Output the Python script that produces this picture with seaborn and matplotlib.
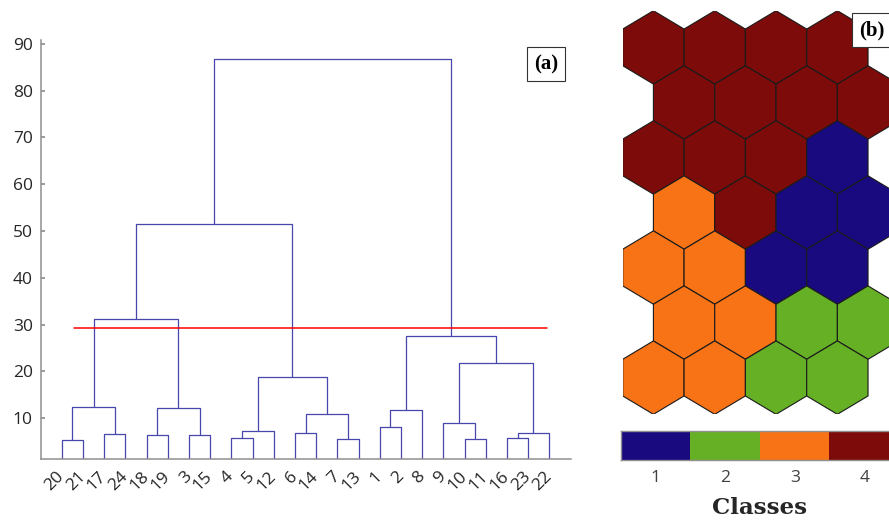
import matplotlib
matplotlib.use("Agg")
import matplotlib.pyplot as plt
import matplotlib.transforms as mtransforms
from matplotlib.colors import ListedColormap
from matplotlib.patches import Polygon
import numpy as np
import pandas as pd
import seaborn as sns

# dendrogram leaves, left to right
leaf_labels = ["20", "21", "17", "24", "18", "19", "3", "15", "4", "5", "12",
               "6", "14", "7", "13", "1", "2", "8", "9", "10", "11", "16", "23", "22"]
# links (left, right, height); "mN" is the N-th link in this list
links = [
    ("20", "21", 5.3), ("17", "24", 6.6), ("m0", "m1", 12.3),
    ("18", "19", 6.3), ("3", "15", 6.4), ("m3", "m4", 12.1),
    ("m2", "m5", 31.2),
    ("4", "5", 5.8), ("m7", "12", 7.3),
    ("6", "14", 6.8), ("7", "13", 5.5), ("m9", "m10", 10.8),
    ("m8", "m11", 18.9),
    ("m6", "m12", 51.5),
    ("1", "2", 8.2), ("m14", "8", 11.8),
    ("10", "11", 5.5), ("9", "m16", 9.0),
    ("16", "23", 5.8), ("m18", "22", 6.9),
    ("m17", "m19", 21.7),
    ("m15", "m20", 27.6),
    ("m13", "m21", 86.7),
]
cut_height = 29.3
cut_from, cut_to = 1.6, 23.9
y_ticks = [10, 20, 30, 40, 50, 60, 70, 80, 90]

class_ids = [1, 2, 3, 4]
class_colors = ["#1a0a80", "#66b026", "#f77316", "#7d0b09"]
# SOM class of each hexagon, top row first (odd rows shifted half a cell)
som_classes = [
    [4, 4, 4, 4],
    [4, 4, 4, 4],
    [4, 4, 4, 1],
    [3, 4, 1, 1],
    [3, 3, 1, 1],
    [3, 3, 2, 2],
    [3, 3, 2, 2],
]

DENDRO = "#4747ad"
TXT = "#262626"
AXC = "#8f8f8f"
BOX = dict(boxstyle="square,pad=0.35", fc="white", ec="#333333", lw=0.8)

sns.set_theme(style="white")
plt.rcParams["font.family"] = ["Open Sans", "DejaVu Sans"]

fig = plt.figure(figsize=(8.89, 5.22), dpi=100)

# (a) dendrogram
ax = fig.add_axes([0.0456, 0.1207, 0.5962, 0.8027])
pos = {lab: (i + 1, 0.0) for i, lab in enumerate(leaf_labels)}
rows = []
for i, (a, b, h) in enumerate(links):
    xa, ya = pos[a]
    xb, yb = pos[b]
    for k, (x, y) in enumerate([(xa, ya), (xa, h), (xb, h), (xb, yb)]):
        rows.append({"link": i, "order": k, "x": x, "y": y})
    pos[f"m{i}"] = ((xa + xb) / 2, h)
seg = pd.DataFrame(rows)
sns.lineplot(data=seg, x="x", y="y", units="link", estimator=None, sort=False,
             color=DENDRO, lw=0.9, ax=ax)
sns.lineplot(x=[cut_from, cut_to], y=[cut_height, cut_height], color="#ff0000",
             lw=1.1, ax=ax)

ax.set_xlim(0, 25)
ax.set_ylim(1.28, 90.8)
ax.set_xlabel("")
ax.set_ylabel("")
ax.set_yticks(y_ticks)
ax.set_xticks(range(1, len(leaf_labels) + 1))
ax.set_xticklabels(leaf_labels, rotation=45, ha="right", va="center",
                   rotation_mode="anchor")
shift = mtransforms.ScaledTranslation(12 / 72, 0, fig.dpi_scale_trans)
for lab in ax.get_xticklabels():
    lab.set_transform(lab.get_transform() + shift)
ax.tick_params(axis="x", length=0, pad=11, labelsize=12.5, labelcolor=TXT)
ax.tick_params(axis="y", direction="in", length=3, color=AXC, pad=5.5,
               labelsize=12.5, labelcolor=TXT, left=True)
for s in ["top", "right"]:
    ax.spines[s].set_visible(False)
for s in ["left", "bottom"]:
    ax.spines[s].set_color(AXC)
    ax.spines[s].set_linewidth(1.1)
ax.text(546 / 889, 1 - 64 / 522, "(a)", transform=fig.transFigure, ha="center",
        va="center", fontsize=15, fontweight="bold", family="Liberation Serif",
        color="black", bbox=BOX)

# (b) SOM hexagon map
hx = fig.add_axes([0.7005, 0.2063, 0.3104, 0.7732])
r = 1 / np.sqrt(3)
ang = np.deg2rad(np.arange(6) * 60 + 30)
for row, classes in enumerate(som_classes):
    for col, c in enumerate(classes):
        cx = col + 0.5 * (row % 2)
        cy = -row * 1.5 * r
        verts = np.column_stack([cx + r * np.cos(ang), cy + r * np.sin(ang)])
        hx.add_patch(Polygon(verts, closed=True, fc=class_colors[c - 1],
                             ec="#1a1a1a", lw=0.8))
hx.set_xlim(-0.5, 4.0)
hx.set_ylim(-(len(som_classes) - 1) * 1.5 * r - r, r)
hx.axis("off")
hx.text(872 / 889, 1 - 30 / 522, "(b)", transform=fig.transFigure, ha="center",
        va="center", fontsize=15, fontweight="bold", family="Liberation Serif",
        color="black", bbox=BOX)

# class colour bar
cb = fig.add_axes([0.6985, 0.1188, 0.3127, 0.0556])
sns.heatmap([class_ids], cmap=ListedColormap(class_colors), vmin=0.5, vmax=4.5,
            cbar=False, ax=cb, xticklabels=class_ids, yticklabels=False)
for s in cb.spines.values():
    s.set_visible(True)
    s.set_color(AXC)
    s.set_linewidth(1.0)
cb.tick_params(axis="x", direction="in", length=3, color="#444444", bottom=True,
               pad=7, labelsize=12.5, labelcolor="#404040", labelrotation=0)
fig.text(760 / 889, 1 - 508 / 522, "Classes", ha="center", va="center",
         fontsize=16.5, fontweight="bold", family="DejaVu Serif", color=TXT)

fig.savefig("out.png", dpi=100)
